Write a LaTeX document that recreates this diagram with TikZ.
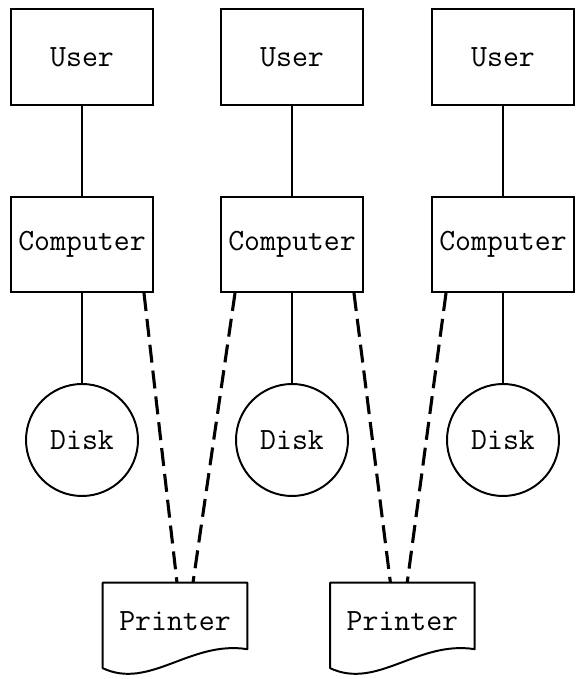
\documentclass[tikz,border=0pt]{standalone}
\usepackage{fontspec}
\usepackage{tikz}
\usetikzlibrary{calc}

\tikzset{
    unit/.style={shape=rectangle, draw, line width=1.4pt, minimum width=3.55cm, minimum height=2.4cm, inner sep=0pt},
    disk/.style={shape=circle, draw, line width=1.4pt, minimum size=2.8cm, inner sep=0pt},
    wire/.style={line width=1pt},
    share/.style={line width=2.2pt, dash pattern=on 0.45cm off 0.2cm},
}

\begin{document}
\begin{tikzpicture}[font=\ttfamily\fontsize{22}{26}\selectfont]
    	\useasboundingbox (0,0) rectangle (14.5,16.975);
    	% Users, computers and disks:
    	\node[unit](U1) at (2.05, 15.54){User};
    	\node[unit](U2) at (7.3, 15.54){User};
    	\node[unit](U3) at (12.575, 15.54){User};
    	\node[unit, minimum height=2.375cm](C1) at (2.05, 10.86){Computer};
    	\node[unit, minimum height=2.375cm](C2) at (7.3, 10.86){Computer};
    	\node[unit, minimum height=2.375cm](C3) at (12.575, 10.86){Computer};
    	\node[disk](D1) at (2.05, 5.975){Disk};
    	\node[disk](D2) at (7.3, 5.975){Disk};
    	\node[disk](D3) at (12.575, 5.975){Disk};
    	% Printers (shape drawn by hand below):
    	\node[shape=rectangle, minimum width=3.6cm, minimum height=2.125cm, inner sep=0pt](P1) at (4.375, 1.34){};
    	\node[shape=rectangle, minimum width=3.6cm, minimum height=2.125cm, inner sep=0pt](P2) at (10.06, 1.34){};
    	\node[anchor=center] at ($(P1.center)+(0,0.1)$){Printer};
    	\node[anchor=center] at ($(P2.center)+(0,0.1)$){Printer};
    	\foreach \p in {P1,P2}
    	    \draw[line width=1.4pt, line join=round] (\p.south west) -- (\p.north west) -- (\p.north east)
    	        -- ($(\p.south east)+(0,0.475)$) .. controls +(-1.425,0.225) and +(1.175,-0.55) .. (\p.south west) -- cycle;
    	% Wires:
    	\draw[wire] (U1) -- (C1) -- (D1);
    	\draw[wire] (U2) -- (C2) -- (D2);
    	\draw[wire] (U3) -- (C3) -- (D3);
    	\draw[share] ([xshift=-0.25cm]C1.south east) -- ([xshift=0.05cm]P1.north);
    	\draw[share] ([xshift=0.375cm]C2.south west) -- ([xshift=0.45cm]P1.north);
    	\draw[share] ([xshift=-0.25cm]C2.south east) -- ([xshift=-0.3cm]P2.north);
    	\draw[share] ([xshift=0.375cm]C3.south west) -- ([xshift=0.12cm]P2.north);
\end{tikzpicture}
\end{document}
